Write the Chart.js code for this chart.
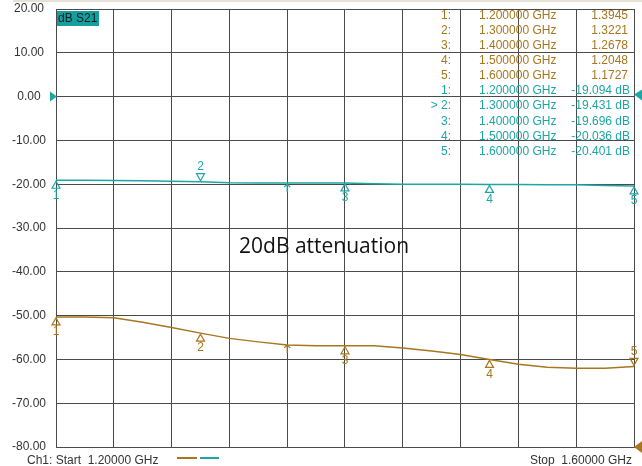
<!DOCTYPE html>
<html>
<head>
<meta charset="utf-8">
<script src="https://cdn.jsdelivr.net/npm/chart.js@4.4.1/dist/chart.umd.min.js"></script>
<style>
  html, body { margin: 0; padding: 0; background: #ffffff; }
  #wrap { width: 642px; height: 466px; position: relative; }
</style>
</head>
<body>
<div id="wrap"><canvas id="c" width="642" height="466"></canvas></div>
<script>
// ---- data ----
const freqs = [1.20, 1.22, 1.24, 1.26, 1.28, 1.30, 1.32, 1.34, 1.36, 1.38, 1.40,
               1.42, 1.44, 1.46, 1.48, 1.50, 1.52, 1.54, 1.56, 1.58, 1.60];
const trace1 = [-50.3, -50.3, -50.5, -51.5, -52.7, -54.0, -55.2, -56.0, -56.7, -56.9, -56.9,
                -56.9, -57.4, -58.1, -58.9, -60.0, -61.1, -61.8, -62.0, -62.0, -61.6];
const trace2 = [-19.1, -19.1, -19.15, -19.2, -19.3, -19.45, -19.65, -19.7, -19.7, -19.7, -19.7,
                -19.9, -20.0, -20.0, -20.0, -20.04, -20.05, -20.1, -20.1, -20.3, -20.4];
const markerFreqs = [1.2, 1.3, 1.4, 1.5, 1.6];
const marker1Vals = [-50.3, -54.0, -56.9, -60.0, -61.6];
const marker2Vals = [-19.094, -19.431, -19.696, -20.036, -20.401];
const marker1Readout = ['1.3945', '1.3221', '1.2678', '1.2048', '1.1727'];
const marker1Down = [false, false, false, false, true];
const marker2Down = [false, true, false, false, false];
const arrowFreq = 1.36;
const arrowVals = [-56.7, -20.0];
const yTicks = { min: -80, max: 20, step: 10 };
const xRange = { min: 1.2, max: 1.6, step: 0.04 };
const noteText = '20dB attenuation';
const notePos = { x: 1.3855, y: -34.3 };

const C1 = '#a8761e';
const C2 = '#1fa5a5';
const GRID = '#4a4a4a';

const pts = (ys) => freqs.map((f, i) => ({ x: f, y: ys[i] }));

function tri(ctx, px, py, down, color) {
  ctx.save();
  ctx.strokeStyle = color;
  ctx.lineWidth = 1.2;
  ctx.beginPath();
  if (!down) {
    ctx.moveTo(px, py + 1);
    ctx.lineTo(px - 4, py + 8);
    ctx.lineTo(px + 4, py + 8);
  } else {
    ctx.moveTo(px, py - 1);
    ctx.lineTo(px - 4, py - 8);
    ctx.lineTo(px + 4, py - 8);
  }
  ctx.closePath();
  ctx.stroke();
  ctx.restore();
}

const overlay = {
  id: 'overlay',
  afterDatasetsDraw(chart) {
    const { ctx, scales: { x, y }, chartArea: ca } = chart;
    ctx.save();
    ctx.font = '12px "Liberation Sans", Arial, sans-serif';
    ctx.textAlign = 'center';
    ctx.textBaseline = 'middle';
    // markers
    [[marker1Vals, marker1Down, C1], [marker2Vals, marker2Down, C2]].forEach(([vals, downs, col]) => {
      markerFreqs.forEach((f, i) => {
        const px = x.getPixelForValue(f), py = y.getPixelForValue(vals[i]);
        tri(ctx, px, py, downs[i], col);
        ctx.fillStyle = col;
        ctx.fillText(String(i + 1), px, downs[i] ? py - 15 : py + 15);
      });
    });
    // arrow markers
    [[arrowVals[0], C1], [arrowVals[1], C2]].forEach(([v, col]) => {
      const px = x.getPixelForValue(arrowFreq), py = y.getPixelForValue(v);
      ctx.strokeStyle = col; ctx.lineWidth = 1.2;
      ctx.beginPath();
      ctx.moveTo(px, py); ctx.lineTo(px, py + 8);
      ctx.moveTo(px - 3, py + 3); ctx.lineTo(px, py); ctx.lineTo(px + 3, py + 3);
      ctx.stroke();
    });
    // reference pointers
    const p0 = y.getPixelForValue(0);
    ctx.fillStyle = C2;
    ctx.beginPath(); ctx.moveTo(ca.left + 1, p0); ctx.lineTo(ca.left - 6, p0 - 5); ctx.lineTo(ca.left - 6, p0 + 5); ctx.closePath(); ctx.fill();
    ctx.beginPath(); ctx.moveTo(ca.right, p0 - 2); ctx.lineTo(ca.right + 8, p0 - 7); ctx.lineTo(ca.right + 8, p0 + 4); ctx.closePath(); ctx.fill();
    const pb = y.getPixelForValue(yTicks.min);
    ctx.fillStyle = C1;
    ctx.beginPath(); ctx.moveTo(ca.right, pb); ctx.lineTo(ca.right + 8, pb - 6); ctx.lineTo(ca.right + 8, pb + 6); ctx.closePath(); ctx.fill();

    // dB S21 box
    ctx.fillStyle = '#169d9d';
    ctx.fillRect(ca.left + 1, 11, 42, 15);
    ctx.fillStyle = '#0a2020';
    ctx.textAlign = 'left';
    ctx.fillText('dB S21', ca.left + 2, 18.5);

    // marker table
    const rowY = (r) => 15.5 + r * 15.1;
    markerFreqs.forEach((f, i) => {
      ctx.fillStyle = C1;
      ctx.textAlign = 'right';
      ctx.fillText((i + 1) + ':', 451, rowY(i));
      ctx.textAlign = 'left';
      ctx.fillText(f.toFixed(6) + ' GHz', 479, rowY(i));
      ctx.textAlign = 'right';
      ctx.fillText(marker1Readout[i], 628, rowY(i));
    });
    markerFreqs.forEach((f, i) => {
      const r = i + 5;
      ctx.fillStyle = C2;
      ctx.textAlign = 'right';
      ctx.fillText((marker2Down[i] ? '> ' : '') + (i + 1) + ':', 451, rowY(r));
      ctx.textAlign = 'left';
      ctx.fillText(f.toFixed(6) + ' GHz', 479, rowY(r));
      ctx.textAlign = 'right';
      ctx.fillText(marker2Vals[i].toFixed(3) + ' dB', 630, rowY(r));
    });

    // annotation
    ctx.fillStyle = '#111';
    ctx.textAlign = 'center';
    ctx.font = '21px "Open Sans", "Noto Sans", sans-serif';
    ctx.fillText(noteText, x.getPixelForValue(notePos.x), y.getPixelForValue(notePos.y));

    // footer
    ctx.font = '12px "Liberation Sans", Arial, sans-serif';
    ctx.fillStyle = '#333';
    ctx.textAlign = 'left';
    ctx.fillText('Ch1: Start  ' + xRange.min.toFixed(5) + ' GHz', 27, 461);
    ctx.textAlign = 'right';
    ctx.fillText('Stop  ' + xRange.max.toFixed(5) + ' GHz', 632, 461);
    ctx.lineWidth = 2;
    ctx.strokeStyle = C1; ctx.beginPath(); ctx.moveTo(177, 458); ctx.lineTo(197, 458); ctx.stroke();
    ctx.strokeStyle = C2; ctx.beginPath(); ctx.moveTo(200, 458); ctx.lineTo(219, 458); ctx.stroke();

    // top strip
    ctx.strokeStyle = '#e6e2d6'; ctx.lineWidth = 2;
    ctx.beginPath(); ctx.moveTo(13, 1); ctx.lineTo(642, 1); ctx.stroke();
    ctx.restore();
  }
};

new Chart(document.getElementById('c'), {
  type: 'line',
  data: {
    datasets: [
      { data: pts(trace1), borderColor: C1, borderWidth: 1.5, pointRadius: 0, tension: 0 },
      { data: pts(trace2), borderColor: C2, borderWidth: 1.5, pointRadius: 0, tension: 0 }
    ]
  },
  options: {
    responsive: false,
    animation: false,
    devicePixelRatio: 1,
    layout: { padding: { left: 0, top: 9, right: 8, bottom: 19 } },
    plugins: { legend: { display: false }, tooltip: { enabled: false } },
    scales: {
      x: {
        type: 'linear', min: xRange.min, max: xRange.max,
        ticks: { display: false, stepSize: xRange.step },
        grid: { color: GRID, lineWidth: 1, drawTicks: false },
        border: { color: GRID },
        afterFit(s) { s.height = 0; s.paddingLeft = 0; s.paddingRight = 0; }
      },
      y: {
        min: yTicks.min, max: yTicks.max,
        ticks: {
          stepSize: yTicks.step, padding: 10, crossAlign: 'center',
          color: '#333', font: { family: '"Liberation Sans", Arial, sans-serif', size: 12 },
          callback: (v) => Number(v).toFixed(2)
        },
        grid: { color: GRID, lineWidth: 1, drawTicks: false },
        border: { color: GRID },
        afterFit(s) { s.width = 56; s.paddingTop = 0; s.paddingBottom = 0; }
      }
    }
  },
  plugins: [overlay]
});
</script>
</body>
</html>
